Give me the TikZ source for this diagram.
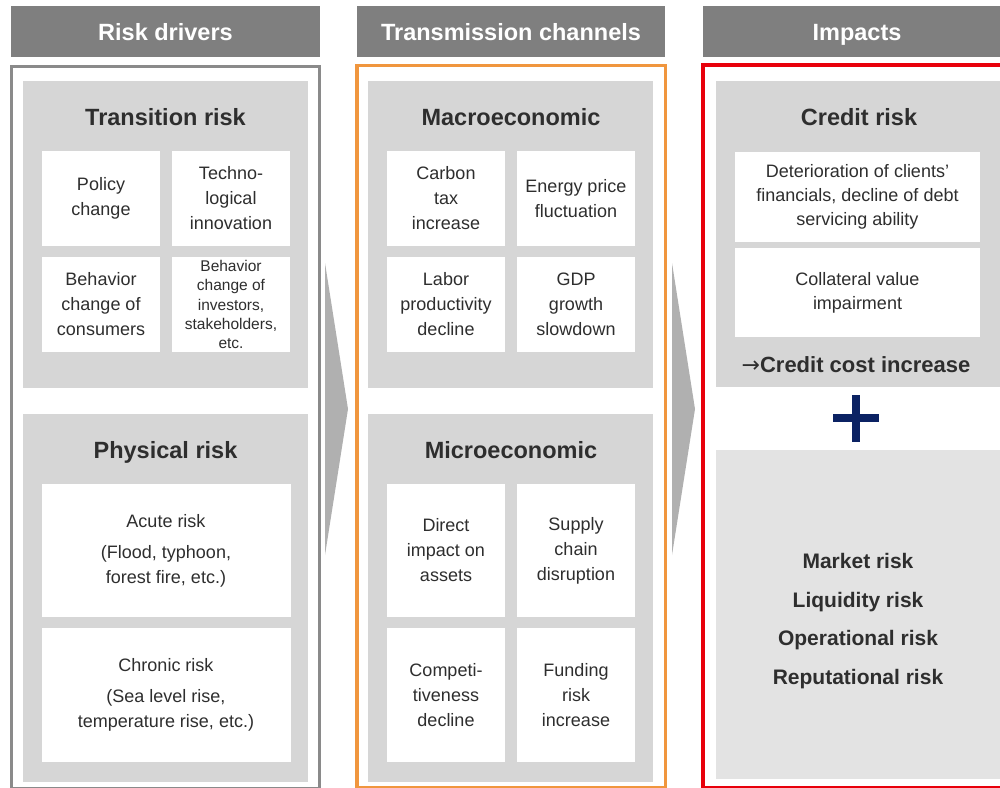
\documentclass[tikz,border=0pt]{standalone}
\usepackage{fontspec}
\setmainfont{Liberation Sans}
\newfontfamily\arrowfont{DejaVu Sans}
\usepackage{xcolor}
\usetikzlibrary{positioning}
\definecolor{hdrgray}{HTML}{7F7F7F}
\definecolor{framegray}{HTML}{8A8A8A}
\definecolor{chanorange}{HTML}{F0963E}
\definecolor{impred}{HTML}{E8000B}
\definecolor{panelgray}{HTML}{D6D6D6}
\definecolor{lightpanel}{HTML}{E3E3E3}
\definecolor{arrowgray}{HTML}{B0B0B0}
\definecolor{plusnavy}{HTML}{0B2263}
\definecolor{txtgray}{HTML}{2E2E2E}

\begin{document}
\begin{tikzpicture}[x=1pt,y=-1pt,
  header/.style={fill=hdrgray,text=white,inner sep=0pt,minimum width=308pt,minimum height=51pt,
    text height=17pt,text depth=0pt,font=\fontsize{23.5}{28}\selectfont\bfseries},
  panel/.style={fill=panelgray,inner sep=0pt,minimum width=285pt},
  title/.style={text=txtgray,inner sep=0pt,text height=17pt,text depth=0pt,
    font=\fontsize{23.5}{28}\selectfont\bfseries},
  wbox/.style={fill=white,text=txtgray,align=center,inner sep=0pt,
    minimum width=118pt,minimum height=95pt,font=\fontsize{18}{25}\selectfont},
  widebox/.style={wbox,minimum width=249pt,minimum height=133pt},
  creditbox/.style={wbox,minimum width=245pt,minimum height=90pt,font=\fontsize{18}{24}\selectfont}]
\useasboundingbox (0,0) rectangle (1000,787);

% column headers
\node[header,minimum width=309pt] (hdrdrivers) at (165.5,31.5) {Risk drivers};
\node[header] (hdrchannels) at (511,31.5) {Transmission channels};
\node[header] (hdrimpacts) at (857,31.5) {Impacts};

% column frames
\draw[framegray,line width=3pt] (11.5,66.5) rectangle (319.5,788);
\draw[chanorange,line width=3.5pt] (357,65.5) rectangle (665.5,788);
\draw[impred,line width=3.5pt] (703,65) rectangle (1012,788);

% arrows between columns
\fill[arrowgray] (325,263) -- (348,409) -- (325,555) -- cycle;
\fill[arrowgray] (672,263) -- (695,409) -- (672,555) -- cycle;

% risk drivers
\node[panel,minimum height=307pt] (transpanel) at (165.5,234.5) {};
\node[title] (transtitle) at (165.5,117) {Transition risk};
\node[wbox] (policy) at (101,198.5) {Policy\\change};
\node[wbox] (techno) at (231,198.5) {Techno-\\logical\\innovation};
\node[wbox] (consumers) at (101,304.5) {Behavior\\change of\\consumers};
\node[wbox,font=\fontsize{15.5}{19.3}\selectfont] (investors) at (231,304.5)
  {Behavior\\change of\\investors,\\stakeholders,\\etc.};

\node[panel,minimum height=368pt] (physpanel) at (165.5,598) {};
\node[title] (phystitle) at (165.5,450) {Physical risk};
\node[widebox] (acute) at (166,550.5) {Acute risk\\[6pt](Flood, typhoon,\\forest fire, etc.)};
\node[widebox,minimum height=134pt] (chronic) at (166,695)
  {Chronic risk\\[6pt](Sea level rise,\\temperature rise, etc.)};

% transmission channels
\node[panel,minimum height=307pt] (macropanel) at (510.5,234.5) {};
\node[title] (macrotitle) at (511,117) {Macroeconomic};
\node[wbox] (carbon) at (446,198.5) {Carbon\\tax\\increase};
\node[wbox] (energy) at (576,198.5) {Energy price\\fluctuation};
\node[wbox] (labor) at (446,304.5) {Labor\\productivity\\decline};
\node[wbox] (gdp) at (576,304.5) {GDP\\growth\\slowdown};

\node[panel,minimum height=368pt] (micropanel) at (510.5,598) {};
\node[title] (microtitle) at (511,450) {Microeconomic};
\node[wbox,minimum height=133pt] (direct) at (446,550.5) {Direct\\impact on\\assets};
\node[wbox,minimum height=133pt] (supply) at (576,550.5) {Supply\\chain\\disruption};
\node[wbox,minimum height=134pt] (compet) at (446,695) {Competi-\\tiveness\\decline};
\node[wbox,minimum height=134pt] (funding) at (576,695) {Funding\\risk\\increase};

% impacts
\node[panel,minimum height=306pt] (creditpanel) at (858.5,234) {};
\node[title] (credittitle) at (859,117) {Credit risk};
\node[creditbox] (deterior) at (857.5,196.5)
  {Deterioration of clients’\\financials, decline of debt\\servicing ability};
\node[creditbox,minimum height=89pt] (collateral) at (857.5,292.5) {Collateral value\\impairment};
\node[title,font=\fontsize{22}{27}\selectfont\bfseries] (creditcost) at (856,364)
  {{\arrowfont\mdseries →}Credit cost increase};

\fill[plusnavy] (833,414) rectangle (879,422);
\fill[plusnavy] (852,395) rectangle (860,442);

\node[panel,fill=lightpanel,minimum height=329pt] (otherpanel) at (858.5,614.5) {};
\node[title,align=center,text height=,text depth=,font=\fontsize{21}{38.7}\selectfont\bfseries]
  (otherrisks) at (858,621) {Market risk\\Liquidity risk\\Operational risk\\Reputational risk};
\end{tikzpicture}
\end{document}
